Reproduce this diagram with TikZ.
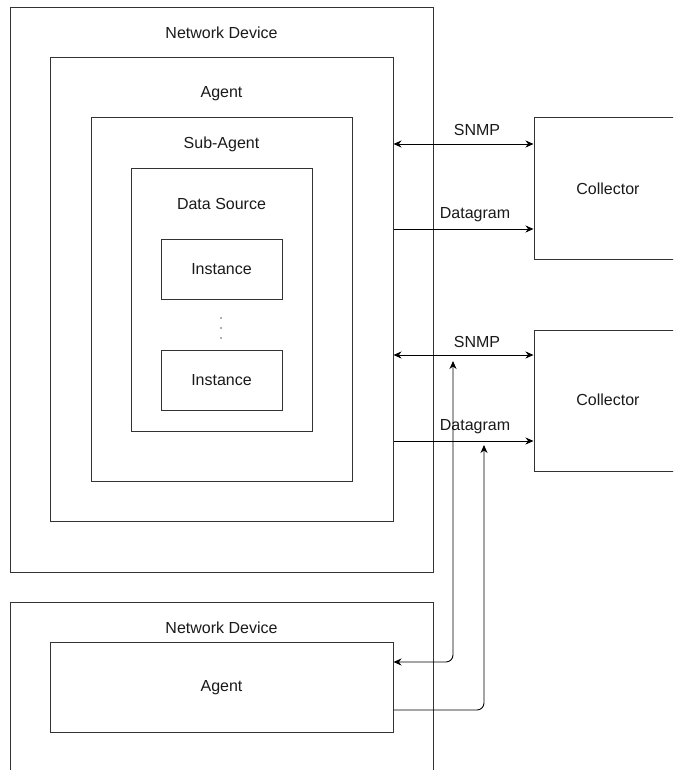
\documentclass[tikz,border=0pt]{standalone}
\usepackage{fontspec}
\setmainfont{Liberation Sans}
\usetikzlibrary{arrows.meta}
\definecolor{boxline}{HTML}{333333}
\definecolor{txt}{HTML}{1A1A1A}
\tikzset{
  box/.style={draw=boxline, line width=1pt, inner sep=0pt, fill=none},
  lbl/.style={text=txt, font=\fontsize{16}{19}\selectfont, inner sep=0pt},
  dotmark/.style={circle, fill=txt!70, inner sep=0pt, minimum size=1.6pt},
  conn/.style={draw=black, line width=0.9pt},
  tip/.style={-{Stealth[length=8pt,width=7pt]}},
  tips/.style={{Stealth[length=8pt,width=7pt]}-{Stealth[length=8pt,width=7pt]}}
}
\begin{document}
\begin{tikzpicture}[x=1pt,y=-1pt]
\useasboundingbox (0,0) rectangle (673,770);
\clip (0,0) rectangle (673,770);
\fill[white] (0,0) rectangle (673,770);
% first device
\node[box, minimum width=423pt, minimum height=564pt] (nd1) at (221.5,290) {};
\node[lbl] (nd1t) at (221.5,33) {Network Device};
\node[box, minimum width=343pt, minimum height=463pt] (ag1) at (221.5,289.5) {};
\node[lbl] (ag1t) at (221.5,94) {Agent};
\node[box, minimum width=261pt, minimum height=363pt] (sa) at (221.5,299.5) {};
\node[lbl] (sat) at (221.5,144) {Sub-Agent};
\node[box, minimum width=181pt, minimum height=262pt] (ds) at (221.5,300) {};
\node[lbl] (dst) at (221.5,204) {Data Source};
\node[box, minimum width=121pt, minimum height=60pt] (in1) at (221.5,269) {};
\node[lbl] (in1t) at (221.5,269) {Instance};
\node[dotmark] (dot1) at (221,318) {};
\node[dotmark] (dot2) at (221,328) {};
\node[dotmark] (dot3) at (221,338) {};
\node[box, minimum width=121pt, minimum height=60pt] (in2) at (221.5,380) {};
\node[lbl] (in2t) at (221.5,380) {Instance};
% collectors
\node[box, minimum width=148pt, minimum height=141pt] (col1) at (608,188.5) {};
\node[lbl] (col1t) at (608,189) {Collector};
\node[box, minimum width=148pt, minimum height=141pt] (col2) at (608,400.5) {};
\node[lbl] (col2t) at (608,400) {Collector};
% second device
\node[box, minimum width=423pt, minimum height=190pt] (nd2) at (221.5,697) {};
\node[lbl] (nd2t) at (221.5,628) {Network Device};
\node[box, minimum width=343pt, minimum height=90pt] (ag2) at (221.5,687) {};
\node[lbl] (ag2t) at (221.5,688) {Agent};
% connectors
\draw[conn, tips] (ag1.east |- 0,144) -- (col1.west |- 0,144);
\node[lbl] (s1) at (477,130) {SNMP};
\draw[conn, tip] (ag1.east |- 0,229) -- (col1.west |- 0,229);
\node[lbl] (d1) at (475,215) {Datagram};
\draw[conn, tips] (ag1.east |- 0,355) -- (col2.west |- 0,355);
\node[lbl] (s2) at (477,342) {SNMP};
\draw[conn, tip] (ag1.east |- 0,441) -- (col2.west |- 0,441);
\node[lbl] (d2) at (475,427) {Datagram};
\coordinate (up1) at (453,361);
\coordinate (up2) at (484,445);
\draw[conn, tips, rounded corners=7pt] (up1) -- (up1 |- 0,662) -- (ag2.east |- 0,662);
\draw[conn, tip, rounded corners=7pt] (ag2.east |- 0,710) -- (up2 |- 0,710) -- (up2);
\end{tikzpicture}
\end{document}
